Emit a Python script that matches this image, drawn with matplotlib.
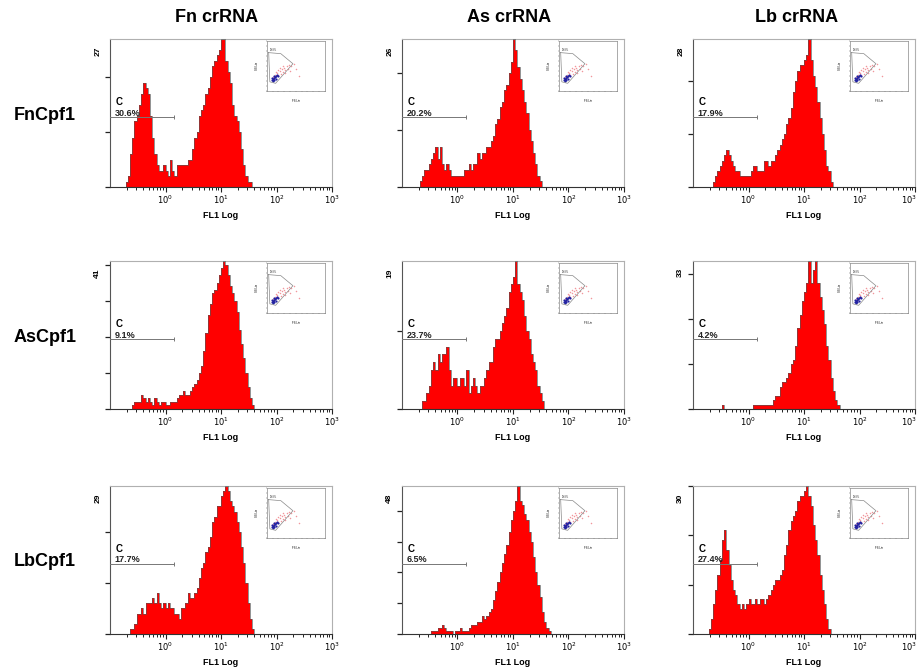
import numpy as np
import matplotlib
matplotlib.use("Agg")
import matplotlib.pyplot as plt
from matplotlib.ticker import FixedLocator, NullFormatter, FixedFormatter

plt.rcParams['font.family'] = ['Liberation Sans', 'DejaVu Sans']

# ---------------- data ----------------
col_titles = ["Fn crRNA", "As crRNA", "Lb crRNA"]
row_titles = ["FnCpf1", "AsCpf1", "LbCpf1"]

# histogram bins: log10(FL1) from -0.76 in steps of 0.04 decade
bin_log_start = -0.76
bin_log_step = 0.04

ymax = [[27, 26, 28],
        [41, 19, 33],
        [29, 48, 30]]
gate_pct = [["30.6%", "20.2%", "17.9%"],
            ["9.1%", "23.7%", "4.2%"],
            ["17.7%", "6.5%", "27.4%"]]

fn_fn = [0, 1, 2, 6, 9, 12, 13, 15, 17, 19, 18, 17, 13, 9, 6, 4, 3, 3, 4, 3,
         2, 5, 3, 2, 4, 4, 4, 4, 4, 5, 5, 7, 9, 10, 13, 14, 15, 17, 18, 20,
         22, 23, 24, 25, 27, 27, 23, 21, 19, 15, 13, 12, 10, 7, 4, 2, 1, 1, 0, 0, 0, 0]
as_fn = [0, 0, 1, 2, 3, 3, 4, 5, 6, 7, 5, 7, 4, 3, 4, 3, 2, 2, 2, 2,
         2, 2, 3, 3, 4, 3, 4, 4, 6, 5, 6, 6, 7, 7, 8, 9, 11, 12, 14, 15,
         17, 18, 20, 22, 26, 24, 21, 19, 17, 15, 13, 10, 8, 6, 4, 2, 1, 0, 0, 0, 0, 0]
lb_fn = [0, 0, 0, 1, 2, 3, 4, 5, 6, 7, 6, 5, 4, 3, 3, 2, 2, 2, 2, 2,
         3, 4, 4, 3, 3, 3, 5, 5, 4, 5, 5, 6, 7, 8, 9, 10, 12, 13, 15, 18,
         20, 22, 23, 23, 24, 25, 28, 24, 21, 19, 16, 13, 10, 7, 4, 3, 1, 0, 0, 0, 0, 0]
fn_as = [0, 0, 0, 0, 1, 2, 2, 2, 4, 3, 2, 3, 2, 1, 3, 2, 1, 2, 2, 1,
         1, 2, 2, 2, 3, 4, 4, 5, 4, 4, 5, 6, 7, 8, 10, 12, 16, 21, 26, 29,
         32, 33, 35, 37, 39, 41, 40, 37, 34, 32, 30, 27, 22, 18, 14, 10, 6, 3, 1, 0, 0, 0]
as_as = [0, 0, 0, 1, 1, 2, 3, 5, 6, 5, 7, 6, 7, 7, 8, 5, 3, 4, 4, 3,
         4, 4, 3, 5, 2, 3, 4, 3, 2, 3, 3, 4, 5, 6, 6, 8, 9, 9, 10, 11,
         12, 13, 15, 16, 17, 19, 16, 15, 14, 12, 10, 9, 7, 6, 5, 3, 2, 1, 0, 0, 0, 0]
lb_as = [0, 0, 0, 0, 0, 0, 0, 1, 0, 0, 0, 0, 0, 0, 0, 0, 0, 0, 0, 0,
         0, 1, 1, 1, 1, 1, 1, 1, 1, 1, 2, 3, 3, 5, 6, 6, 7, 8, 10, 11,
         14, 18, 21, 24, 26, 28, 33, 28, 31, 33, 28, 25, 22, 19, 14, 11, 7, 4, 2, 1, 0, 0]
fn_lb = [0, 0, 0, 1, 1, 2, 4, 4, 5, 4, 6, 6, 6, 7, 6, 8, 6, 5, 6, 5,
         6, 5, 5, 4, 4, 3, 5, 5, 6, 8, 7, 7, 8, 9, 11, 13, 14, 16, 17, 19,
         22, 23, 25, 25, 27, 28, 29, 28, 26, 25, 24, 22, 20, 17, 14, 10, 6, 3, 1, 0, 0, 0]
as_lb = [0, 0, 0, 0, 0, 0, 0, 1, 1, 1, 2, 2, 3, 2, 1, 1, 1, 0, 1, 1,
         2, 1, 1, 1, 2, 3, 3, 3, 4, 4, 6, 5, 6, 7, 8, 11, 14, 17, 20, 23,
         26, 29, 33, 37, 40, 43, 48, 43, 42, 39, 37, 33, 30, 25, 20, 16, 12, 7, 4, 2, 1, 0]
lb_lb = [0, 1, 3, 6, 9, 12, 15, 19, 21, 17, 14, 11, 9, 8, 6, 5, 6, 5, 6, 7,
         6, 6, 7, 6, 7, 7, 6, 7, 8, 9, 10, 11, 11, 12, 13, 16, 18, 21, 23, 24,
         25, 27, 28, 28, 29, 30, 28, 26, 22, 19, 16, 12, 9, 6, 3, 1, 0, 0, 0, 0, 0, 0]

counts = [[fn_fn, as_fn, lb_fn],
          [fn_as, as_as, lb_as],
          [fn_lb, as_lb, lb_lb]]

x_major = [1, 10, 100, 1000]
x_major_labels = ["$10^0$", "$10^1$", "$10^2$", "$10^3$"]
gate_end = 1.4

# scatter inset (FS vs SS, normalised)
gate_poly_x = [0.03, 0.24, 0.45, 0.15, 0.05, 0.03]
gate_poly_y = [0.77, 0.75, 0.55, 0.16, 0.19, 0.77]
red_x = [0.10, 0.14, 0.18, 0.22, 0.26, 0.30, 0.34, 0.38, 0.12, 0.16, 0.20, 0.24, 0.28,
         0.32, 0.36, 0.42, 0.46, 0.15, 0.19, 0.23, 0.27, 0.31, 0.40, 0.50, 0.55]
red_y = [0.28, 0.33, 0.36, 0.40, 0.44, 0.47, 0.50, 0.52, 0.24, 0.30, 0.32, 0.35, 0.38,
         0.42, 0.45, 0.50, 0.55, 0.38, 0.42, 0.46, 0.50, 0.36, 0.40, 0.45, 0.30]
blue_x = [0.08, 0.10, 0.12, 0.14, 0.16, 0.11, 0.13, 0.15, 0.09, 0.18, 0.20, 0.12]
blue_y = [0.22, 0.24, 0.26, 0.28, 0.30, 0.20, 0.22, 0.25, 0.27, 0.32, 0.30, 0.30]

# ---------------- layout ----------------
W, H = 920, 671
fig = plt.figure(figsize=(W / 100, H / 100), dpi=100)
col_left = [110, 402, 693]
row_bottom = [187, 409, 634]
ax_w, ax_h = 222, 148

frame_col = "#b0b0b0"

for r in range(3):
    for c in range(3):
        l = col_left[c] / W
        b = 1 - row_bottom[r] / H
        ax = fig.add_axes([l, b, ax_w / W, ax_h / H])
        vals = np.asarray(counts[r][c], dtype=float)
        edges = 10 ** (bin_log_start + bin_log_step * np.arange(len(vals) + 1))
        ax.stairs(vals, edges, fill=True, color="#ff0000", zorder=2)
        ax.stairs(vals, edges, color="#555555", lw=0.45, zorder=3)
        ax.set_xscale("log")
        ax.set_xlim(0.1, 1000)
        ax.set_ylim(0, ymax[r][c])

        labels = list(x_major_labels)
        if c == 2:
            labels[-1] = ""
        ax.xaxis.set_major_locator(FixedLocator(x_major))
        ax.xaxis.set_major_formatter(FixedFormatter(labels))
        minors = [m * 10.0 ** d for d in range(-1, 3) for m in range(2, 10)]
        ax.xaxis.set_minor_locator(FixedLocator(minors))
        ax.xaxis.set_minor_formatter(NullFormatter())
        ax.tick_params(axis="x", which="major", length=3.5, width=0.8, labelsize=6, pad=1.5,
                       color="#222222")
        ax.tick_params(axis="x", which="minor", length=2, width=0.7, color="#222222")
        ax.set_yticks(np.arange(0, ymax[r][c] + 1, 10))
        ax.set_yticklabels([])
        ax.tick_params(axis="y", length=3.5, width=0.9, color="#222222")
        for lab in ax.get_xticklabels():
            lab.set_fontweight("bold")
        if c == 2:
            # keep the last decade label inside the figure edge
            ax.annotate(x_major_labels[-1], xy=(x_major[-1], 0),
                        xycoords=("data", "axes fraction"), xytext=(-4, -5),
                        textcoords="offset points", ha="center", va="top",
                        fontsize=6, fontweight="bold")

        ax.spines["left"].set_color("#555555")
        ax.spines["bottom"].set_color("#333333")
        ax.spines["left"].set_linewidth(0.8)
        ax.spines["bottom"].set_linewidth(0.8)
        for s in ("top", "right"):
            ax.spines[s].set_color(frame_col)
            ax.spines[s].set_linewidth(0.8)

        ax.set_xlabel("FL1 Log", fontsize=6.5, fontweight="bold", labelpad=3)
        ax.text(-0.055, 0.92, str(ymax[r][c]), transform=ax.transAxes, rotation=90,
                fontsize=6, fontweight="bold", ha="center", va="center")

        # gate marker
        gy = 0.47 * ymax[r][c]
        ax.plot([0.1, gate_end], [gy, gy], color="#777777", lw=0.7, zorder=4, clip_on=False)
        ax.plot([gate_end], [gy], marker="|", ms=3, color="#777777", mew=0.7, zorder=4)
        ax.text(0.025, 0.575, "C", transform=ax.transAxes, fontsize=7, fontweight="bold",
                ha="left", va="center")
        ax.text(0.02, 0.5, gate_pct[r][c], transform=ax.transAxes, fontsize=6.5,
                fontweight="bold", ha="left", va="center", color="#222222")

        # scatter inset
        ins = ax.inset_axes([0.707, 0.646, 0.26, 0.34])
        ins.set_xlim(0, 1)
        ins.set_ylim(0, 1)
        ins.plot(gate_poly_x, gate_poly_y, color="#888888", lw=0.5)
        ins.scatter(red_x, red_y, s=1.2, color="#e8505a", alpha=0.6, lw=0)
        ins.scatter(blue_x, blue_y, s=2.5, color="#2020a0", lw=0)
        ins.text(0.05, 0.80, "98.8%", fontsize=1.8, color="#333333")
        ins.set_xticks(np.linspace(0, 1, 11))
        ins.set_yticks(np.linspace(0, 1, 11))
        ins.set_xticklabels([])
        ins.set_yticklabels([])
        ins.tick_params(length=1, width=0.3, color="#444444")
        for s in ins.spines.values():
            s.set_color("#888888")
            s.set_linewidth(0.5)
        ins.set_xlabel("FS Lin", fontsize=2, labelpad=1)
        ins.set_ylabel("SS Lin", fontsize=2, labelpad=1)

# column titles
col_centers = [217, 509, 797]
for c in range(3):
    fig.text(col_centers[c] / W, 1 - 17 / H, col_titles[c], fontsize=13, fontweight="bold",
             ha="center", va="center")
# row titles
row_centers = [115, 337, 562]
for r in range(3):
    fig.text(14 / W, 1 - row_centers[r] / H, row_titles[r], fontsize=13, fontweight="bold",
             ha="left", va="center")

fig.savefig("out.png", dpi=100)
